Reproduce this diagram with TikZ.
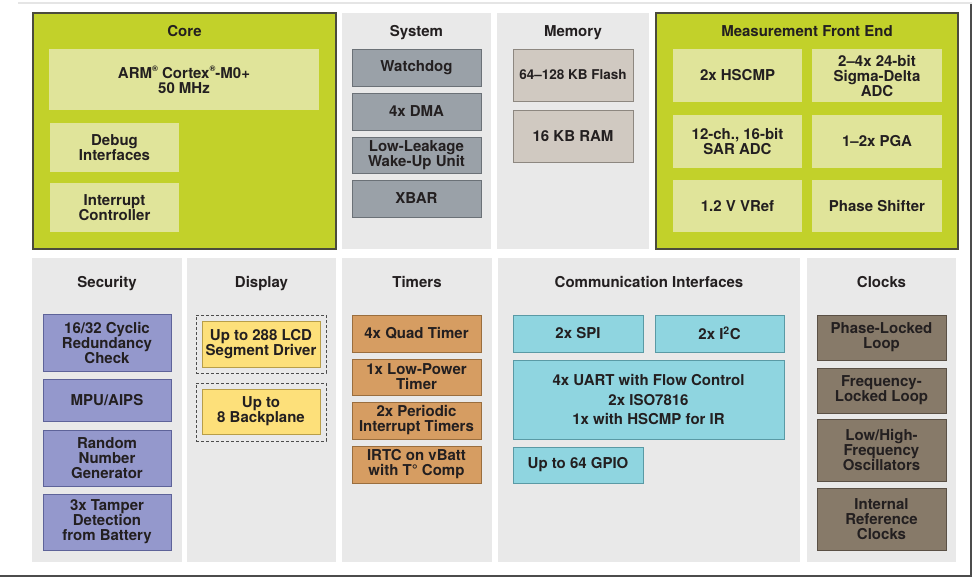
\documentclass[tikz,border=0pt]{standalone}
\usepackage{fontspec}
\setmainfont{TeX Gyre Heros}

\definecolor{ink}{HTML}{231F20}
\definecolor{panelgray}{HTML}{E9E9E9}
\definecolor{coregreen}{HTML}{C2D12A}
\definecolor{coreedge}{HTML}{4B4B3C}
\definecolor{corepale}{HTML}{E0E49A}
\definecolor{sysgray}{HTML}{9AA1A8}
\definecolor{sysedge}{HTML}{6B7177}
\definecolor{memtan}{HTML}{D0C9C1}
\definecolor{memedge}{HTML}{8D8780}
\definecolor{secblue}{HTML}{9498CC}
\definecolor{secedge}{HTML}{5E6399}
\definecolor{lcdyellow}{HTML}{FDE07A}
\definecolor{lcdedge}{HTML}{B89E48}
\definecolor{timorange}{HTML}{D69D62}
\definecolor{timedge}{HTML}{9A6E3E}
\definecolor{comcyan}{HTML}{8FD5E0}
\definecolor{comedge}{HTML}{5A9AA5}
\definecolor{clkbrown}{HTML}{877A69}
\definecolor{clkedge}{HTML}{5A5045}

\newcommand{\regmark}{\raisebox{0.45em}{\fontsize{8}{8}\selectfont\textregistered}}

\begin{document}
\begin{tikzpicture}[x=1pt,y=-1pt,
  every node/.style={font=\bfseries\fontsize{15}{15}\selectfont, text=ink,
    align=center, inner sep=0pt},
  sz/.style 2 args={minimum width=#1, minimum height=#2},
  panel/.style={fill=panelgray},
  hipanel/.style={fill=coregreen, draw=coreedge, line width=1.6pt},
  title/.style={anchor=base},
  pale/.style={fill=corepale},
  sysbox/.style={fill=sysgray, draw=sysedge, line width=0.8pt},
  membox/.style={fill=memtan, draw=memedge, line width=0.8pt},
  secbox/.style={fill=secblue, draw=secedge, line width=0.8pt},
  lcdbox/.style={fill=lcdyellow, draw=lcdedge, line width=0.6pt},
  dashbox/.style={draw=black!70, line width=0.8pt, dash pattern=on 3pt off 2pt},
  timbox/.style={fill=timorange, draw=timedge, line width=0.8pt},
  combox/.style={fill=comcyan, draw=comedge, line width=0.8pt},
  clkbox/.style={fill=clkbrown, draw=clkedge, line width=0.8pt}]

  \useasboundingbox (0,0) rectangle (976,579);

  % screenshot frame
  \draw[black!10, line width=1.5pt] (18,3) -- (972,3);
  \draw[black!70, line width=2pt] (971,4) -- (971,576) -- (0,576);

  % top row
  \node[hipanel, sz={303}{236}] (core) at (184.5,131) {};
  \node[panel, sz={149}{236}] (sys) at (416.5,131) {};
  \node[panel, sz={152}{236}] (mem) at (573,131) {};
  \node[hipanel, sz={302}{236}] (mfe) at (807,131) {};

  \node[title] (coreT) at (184.5,36) {Core};
  \node[pale, sz={270}{61}] (arm) at (184,79.5) {ARM\regmark{} Cortex\regmark-M0+\\50 MHz};
  \node[pale, sz={129}{49}] (dbg) at (114.5,147.5) {Debug\\Interfaces};
  \node[pale, sz={129}{49}] (irq) at (114.5,207.5) {Interrupt\\Controller};

  \node[title] (sysT) at (416.5,36) {System};
  \node[sysbox, sz={129}{37}] (wdog) at (416.5,67.5) {Watchdog};
  \node[sysbox, sz={129}{37}] (dma) at (416.5,111.5) {4x DMA};
  \node[sysbox, sz={129}{36}] (llwu) at (416.5,155) {Low-Leakage\\Wake-Up Unit};
  \node[sysbox, sz={129}{37}] (xbar) at (416.5,198.5) {XBAR};

  \node[title] (memT) at (573,36) {Memory};
  \node[membox, sz={120}{52}, font=\bfseries\fontsize{13.5}{15}\selectfont] (flash) at (573,75) {64--128 KB Flash};
  \node[membox, sz={120}{52}] (ram) at (573,136) {16 KB RAM};

  \node[title] (mfeT) at (807,36) {Measurement Front End};
  \node[pale, sz={129}{53}] (hscmp) at (737.5,75.5) {2x HSCMP};
  \node[pale, sz={130}{53}] (sdadc) at (877,75.5) {2--4x 24-bit\\Sigma-Delta\\ADC};
  \node[pale, sz={129}{53}] (sar) at (737.5,141.5) {12-ch., 16-bit\\SAR ADC};
  \node[pale, sz={130}{53}] (pga) at (877,141.5) {1--2x PGA};
  \node[pale, sz={129}{52}] (vref) at (737.5,206) {1.2 V VRef};
  \node[pale, sz={130}{52}] (phase) at (877,206) {Phase Shifter};

  % bottom row
  \node[panel, sz={150}{304}] (sec) at (107,410) {};
  \node[panel, sz={149}{304}] (disp) at (261.5,410) {};
  \node[panel, sz={150}{304}] (tim) at (417,410) {};
  \node[panel, sz={302}{304}] (com) at (649,410) {};
  \node[panel, sz={149}{304}] (clk) at (881.5,410) {};

  \node[title] (secT) at (107,287.5) {Security};
  \node[secbox, sz={128}{57}] (crc) at (107,342.5) {16/32 Cyclic\\Redundancy\\Check};
  \node[secbox, sz={128}{42}] (mpu) at (107,400) {MPU/AIPS};
  \node[secbox, sz={128}{56}] (rng) at (107,458) {Random\\Number\\Generator};
  \node[secbox, sz={128}{56}] (tamper) at (107,522) {3x Tamper\\Detection\\from Battery};

  \node[title] (dispT) at (261.5,287.5) {Display};
  \node[dashbox, sz={130}{58}] (lcdA) at (261,344) {};
  \node[lcdbox, sz={118}{46}] (seg) at (261,344) {Up to 288 LCD\\Segment Driver};
  \node[dashbox, sz={130}{58}] (lcdB) at (261,412) {};
  \node[lcdbox, sz={118}{45}] (bp) at (261,411.5) {Up to\\8 Backplane};

  \node[title] (timT) at (417,287.5) {Timers};
  \node[timbox, sz={129}{37}] (quad) at (416.5,333.5) {4x Quad Timer};
  \node[timbox, sz={129}{36}] (lpt) at (416.5,377) {1x Low-Power\\Timer};
  \node[timbox, sz={129}{37}] (pit) at (416.5,420.5) {2x Periodic\\Interrupt Timers};
  \node[timbox, sz={129}{37}] (irtc) at (416.5,464.5) {IRTC on vBatt\\with T° Comp};

  \node[title] (comT) at (649,287.5) {Communication Interfaces};
  \node[combox, sz={130}{37}] (spi) at (578,333.5) {2x SPI};
  \node[combox, sz={129}{37}] (iic) at (719.5,333.5) {2x I\textsuperscript{2}C};
  \node[combox, sz={271}{79}, font=\bfseries\fontsize{15}{19.5}\selectfont] (uart) at (648.5,399.5) {4x UART with Flow Control\\2x ISO7816\\1x with HSCMP for IR};
  \node[combox, sz={130}{36}] (gpio) at (578,465) {Up to 64 GPIO};

  \node[title] (clkT) at (881.5,287.5) {Clocks};
  \node[clkbox, sz={129}{45}] (pll) at (881.5,337.5) {Phase-Locked\\Loop};
  \node[clkbox, sz={129}{45}] (fll) at (881.5,390.5) {Frequency-\\Locked Loop};
  \node[clkbox, sz={129}{62}] (osc) at (881.5,450) {Low/High-\\Frequency\\Oscillators};
  \node[clkbox, sz={129}{62}] (irc) at (881.5,519) {Internal\\Reference\\Clocks};
\end{tikzpicture}
\end{document}
